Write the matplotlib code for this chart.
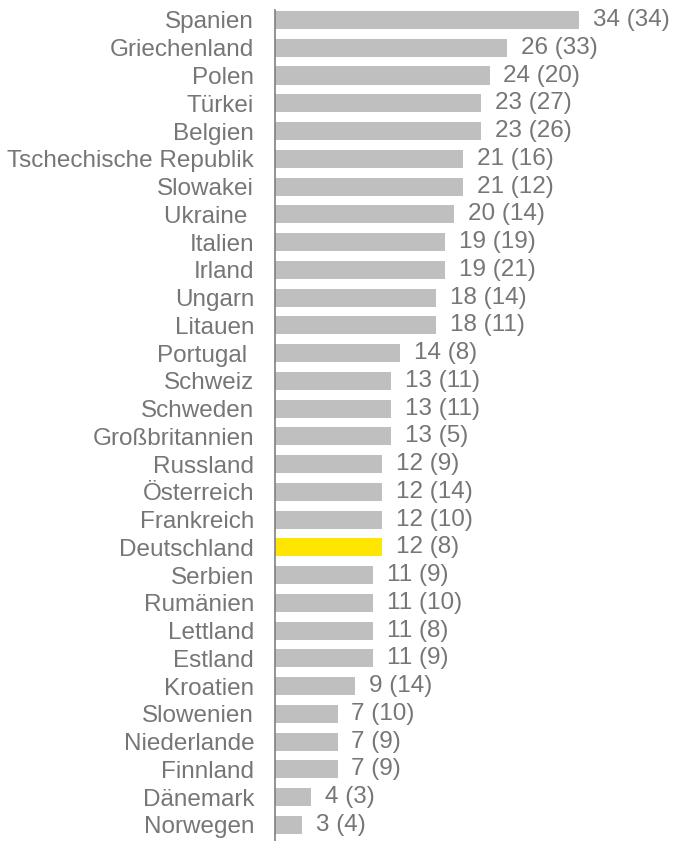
import matplotlib.pyplot as plt

plt.rcParams['font.family'] = ['Liberation Sans', 'DejaVu Sans']

countries = ['Spanien', 'Griechenland', 'Polen', 'Türkei', 'Belgien',
             'Tschechische Republik', 'Slowakei', 'Ukraine ', 'Italien', 'Irland',
             'Ungarn', 'Litauen', 'Portugal ', 'Schweiz', 'Schweden',
             'Großbritannien', 'Russland', 'Österreich', 'Frankreich', 'Deutschland',
             'Serbien', 'Rumänien', 'Lettland', 'Estland', 'Kroatien',
             'Slowenien', 'Niederlande', 'Finnland', 'Dänemark', 'Norwegen']
values = [34, 26, 24, 23, 23, 21, 21, 20, 19, 19,
          18, 18, 14, 13, 13, 13, 12, 12, 12, 12,
          11, 11, 11, 11, 9, 7, 7, 7, 4, 3]
previous = [34, 33, 20, 27, 26, 16, 12, 14, 19, 21,
            14, 11, 8, 11, 11, 5, 9, 14, 10, 8,
            9, 10, 8, 9, 14, 10, 9, 9, 3, 4]
highlight = 'Deutschland'

text_color = '#767676'
colors = ['#FFE600' if c == highlight else '#BFBFBF' for c in countries]

fig = plt.figure(figsize=(6.75, 8.41), dpi=100)
ax = fig.add_axes([275 / 675, 0, 400 / 675, 831 / 841])

pos = list(range(len(countries)))
bars = ax.barh(pos, values, height=0.65, color=colors)
labels = [f'{v} ({p})' for v, p in zip(values, previous)]
ax.bar_label(bars, labels=labels, padding=10, fontsize=17.5, color=text_color)

ax.set_yticks(pos)
ax.set_yticklabels(countries, fontsize=17.5, color=text_color)
ax.tick_params(axis='y', length=0, pad=15)
ax.set_xticks([])
ax.set_xlim(0, 400 / 8.94)
ax.set_ylim(len(countries) - 1 + 0.58, -0.36)

for side in ['top', 'right', 'bottom']:
    ax.spines[side].set_visible(False)
ax.spines['left'].set_color('#808080')
ax.spines['left'].set_linewidth(1.2)

fig.savefig('out.png', dpi=100)
